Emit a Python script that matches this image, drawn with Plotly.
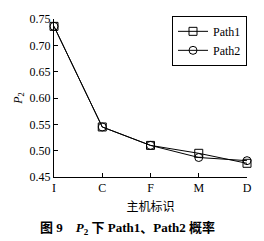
import plotly.graph_objects as go

hosts = ["I", "C", "F", "M", "D"]
path1 = [0.736, 0.545, 0.510, 0.495, 0.476]
path2 = [0.736, 0.545, 0.510, 0.487, 0.481]
yticks = [0.45, 0.50, 0.55, 0.60, 0.65, 0.70, 0.75]

serif = "Liberation Serif, Noto Sans CJK SC"
fig = go.Figure()
fig.add_trace(go.Scatter(x=hosts, y=path1, name="Path1", mode="lines+markers",
                         line=dict(color="black", width=1),
                         marker=dict(symbol="square-open", size=8, color="black", line=dict(width=1)),
                         cliponaxis=False))
fig.add_trace(go.Scatter(x=hosts, y=path2, name="Path2", mode="lines+markers",
                         line=dict(color="black", width=1),
                         marker=dict(symbol="circle-open", size=8, color="black", line=dict(width=1)),
                         cliponaxis=False))
fig.update_layout(
    width=264, height=241, margin=dict(l=54, r=16, t=14, b=64),
    paper_bgcolor="white", plot_bgcolor="white",
    font=dict(family=serif, size=12, color="black"),
    showlegend=True,
    legend=dict(x=1, xanchor="right", y=1.02, yanchor="top", bordercolor="black", borderwidth=1,
                bgcolor="white", font=dict(size=12), tracegroupgap=0, itemwidth=30),
    xaxis=dict(type="category", range=[0, 4], showline=True, linecolor="black", linewidth=1,
               ticks="inside", ticklen=4, tickcolor="black", showgrid=False, zeroline=False,
               tickfont=dict(size=12),
               title=dict(text="主机标识", font=dict(size=12), standoff=8)),
    yaxis=dict(range=[0.45, 0.75], tickvals=yticks, ticktext=[f"{v:.2f}" for v in yticks],
               showline=True, linecolor="black", linewidth=1, ticks="inside", ticklen=4,
               tickcolor="black", showgrid=False, zeroline=False, tickfont=dict(size=12),
               title=dict(text="<i>P</i><sub>2</sub>", font=dict(size=12), standoff=4)),
)
fig.add_annotation(text="<b>图 9&nbsp;&nbsp;&nbsp;&nbsp;<i>P</i><sub>2</sub> 下 Path1、Path2 概率</b>",
                   xref="paper", yref="paper", x=0.38, y=-0.26, xanchor="center", yanchor="top",
                   showarrow=False, font=dict(size=13, family=serif))
fig.write_html("out.html")
